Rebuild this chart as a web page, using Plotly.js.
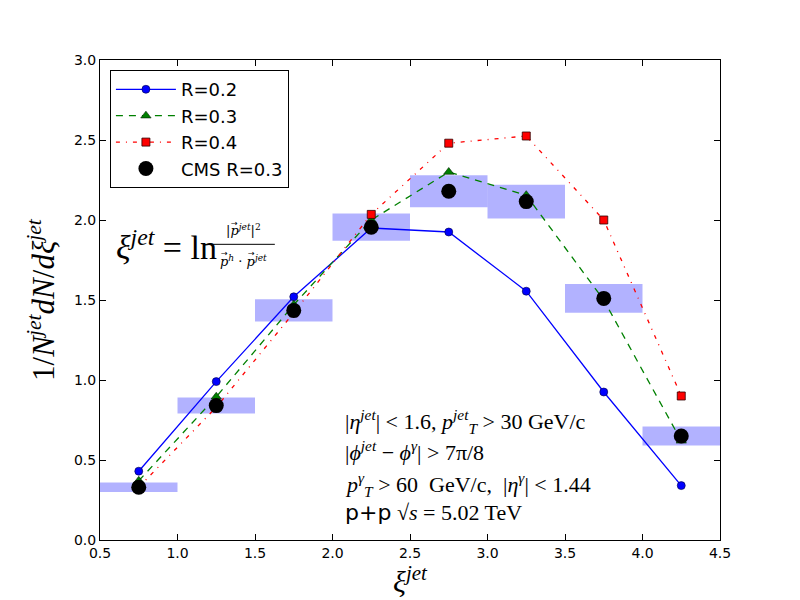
<!DOCTYPE html>
<html>
<head>
<meta charset="utf-8">
<script src="https://cdn.plot.ly/plotly-3.0.1.min.js"></script>
<style>
  body { margin: 0; background: #fff; }
  #chart { width: 800px; height: 600px; }
</style>
</head>
<body>
<div id="chart"></div>
<script>
'use strict';

// xi bin centres and bin width
var xiCentres = [0.75, 1.25, 1.75, 2.25, 2.75, 3.25, 3.75, 4.25];
var binWidth = 0.5;

// Model curves
var r02 = [0.43, 0.99, 1.52, 1.95, 1.925, 1.555, 0.925, 0.34];
var r03 = [0.37, 0.895, 1.47, 2.00, 2.30, 2.155, 1.50, 0.62];
var r04 = [0.33, 0.83, 1.42, 2.035, 2.48, 2.525, 2.00, 0.90];

// CMS data and its systematic box half-height
var cms = [0.33, 0.84, 1.435, 1.955, 2.18, 2.115, 1.51, 0.65];
var cmsSys = [0.03, 0.05, 0.07, 0.085, 0.10, 0.105, 0.09, 0.06];

var xTicks = [0.5, 1.0, 1.5, 2.0, 2.5, 3.0, 3.5, 4.0, 4.5];
var yTicks = [0.0, 0.5, 1.0, 1.5, 2.0, 2.5, 3.0];

var serif = '"Liberation Serif", "DejaVu Serif", serif';
var dvSerif = '"DejaVu Serif", serif';
var sans = '"DejaVu Sans", sans-serif';

function draw (node) {

    // Systematic boxes as bars with a base
    var boxBase = [], boxHeight = [];
    for (var i = 0; i < cms.length; ++i) {
        boxBase.push(cms[i] - cmsSys[i]);
        boxHeight.push(2 * cmsSys[i]);
    }

    var traces = [{
            type: 'bar',
            x: xiCentres,
            y: boxHeight,
            base: boxBase,
            width: binWidth,
            marker: { color: 'rgba(0,0,255,0.3)', line: { width: 0 } },
            showlegend: false,
            hoverinfo: 'none'
        },
        {
            type: 'scatter',
            name: 'R=0.2',
            x: xiCentres,
            y: r02,
            mode: 'lines+markers',
            line: { color: '#0000ff', width: 1.3 },
            marker: { symbol: 'circle', size: 8, color: '#0000ff',
                      line: { color: '#000040', width: 0.6 } },
            hoverinfo: 'none'
        },
        {
            type: 'scatter',
            name: 'R=0.3',
            x: xiCentres,
            y: r03,
            mode: 'lines+markers',
            line: { color: '#008000', width: 1.3, dash: '7px,6px' },
            marker: { symbol: 'triangle-up', size: 9, color: '#008000',
                      line: { color: '#002000', width: 0.6 } },
            hoverinfo: 'none'
        },
        {
            type: 'scatter',
            name: 'R=0.4',
            x: xiCentres,
            y: r04,
            mode: 'lines+markers',
            line: { color: '#ff0000', width: 1.3, dash: '4px,6px,1px,6px' },
            marker: { symbol: 'square', size: 8, color: '#ff0000',
                      line: { color: '#300000', width: 0.8 } },
            hoverinfo: 'none'
        },
        {
            type: 'scatter',
            name: 'CMS R=0.3',
            x: xiCentres,
            y: cms,
            mode: 'markers',
            marker: { symbol: 'circle', size: 15, color: '#000000' },
            hoverinfo: 'none'
        }
    ];

    var axisCommon = {
        showline: true,
        linecolor: '#000',
        linewidth: 1,
        mirror: 'ticks',
        ticks: 'inside',
        ticklen: 6,
        tickcolor: '#000',
        showgrid: false,
        zeroline: false,
        tickfont: { family: sans, size: 14, color: '#000' }
    };

    var xaxis = Object.assign({}, axisCommon, {
        range: [0.5, 4.5],
        tickvals: xTicks,
        tickformat: '.1f',
        title: { text: '<i>ξ</i><sup><i>jet</i></sup>', font: { family: serif, size: 30, color: '#000' }, standoff: 2 }
    });
    var yaxis = Object.assign({}, axisCommon, {
        range: [0, 3],
        tickvals: yTicks,
        tickformat: '.1f',
        title: { text: '1/<i>N</i><sup><i>jet</i></sup><i>dN</i>/<i>dξ</i><sup><i>jet</i></sup>',
                 font: { family: serif, size: 31, color: '#000' }, standoff: 10 }
    });

    var annFont = { family: serif, size: 22, color: '#000' };
    var fracFont = { family: dvSerif, size: 13, color: '#000' };
    var arrowFont = { family: sans, size: 8, color: '#000' };
    var annotations = [
        { xref: 'paper', yref: 'paper', x: 0.022, y: 0.615, xanchor: 'left', yanchor: 'middle',
          text: '<i>ξ</i><sup><i>jet</i></sup> = ln', font: { family: serif, size: 34, color: '#000' }, showarrow: false },
        { xref: 'paper', yref: 'paper', x: 0.231, y: 0.645, xanchor: 'center', yanchor: 'middle',
          text: '|<i>p</i><sup><i>jet</i></sup>|<sup>2</sup>', font: fracFont, showarrow: false },
        { xref: 'paper', yref: 'paper', x: 0.231, y: 0.582, xanchor: 'center', yanchor: 'middle',
          text: '<i>p</i><sup><i>h</i></sup> · <i>p</i><sup><i>jet</i></sup>', font: fracFont, showarrow: false },
        // vector arrows over the three momenta
        { xref: 'paper', yref: 'paper', x: 0.217, y: 0.660, xanchor: 'center', yanchor: 'middle',
          text: '→', font: arrowFont, showarrow: false },
        { xref: 'paper', yref: 'paper', x: 0.201, y: 0.597, xanchor: 'center', yanchor: 'middle',
          text: '→', font: arrowFont, showarrow: false },
        { xref: 'paper', yref: 'paper', x: 0.244, y: 0.597, xanchor: 'center', yanchor: 'middle',
          text: '→', font: arrowFont, showarrow: false },
        { xref: 'paper', yref: 'paper', x: 0.392, y: 0.247, xanchor: 'left', yanchor: 'middle',
          text: '|<i>η</i><sup><i>jet</i></sup>| < 1.6, <i>p</i><sup><i>jet</i></sup><sub><i>T</i></sub> > 30 GeV/c', font: annFont, showarrow: false },
        { xref: 'paper', yref: 'paper', x: 0.392, y: 0.186, xanchor: 'left', yanchor: 'middle',
          text: '|<i>ϕ</i><sup><i>jet</i></sup> − <i>ϕ</i><sup><i>γ</i></sup>| > 7π/8', font: annFont, showarrow: false },
        { xref: 'paper', yref: 'paper', x: 0.392, y: 0.115, xanchor: 'left', yanchor: 'middle',
          text: '<i>p</i><sup><i>γ</i></sup><sub><i>T</i></sub> > 60  GeV/c,  |<i>η</i><sup><i>γ</i></sup>| < 1.44', font: annFont, showarrow: false },
        { xref: 'paper', yref: 'paper', x: 0.392, y: 0.058, xanchor: 'left', yanchor: 'middle',
          text: '<span style="font-family:DejaVu Sans">p+p</span> √<i>s</i> = 5.02 TeV', font: annFont, showarrow: false }
    ];

    // fraction bar of the xi definition
    var shapes = [
        { type: 'line', xref: 'paper', yref: 'paper', x0: 0.181, x1: 0.282, y0: 0.616, y1: 0.616,
          line: { color: '#000', width: 1 } }
    ];

    Plotly.newPlot(node, traces, {
        width: 800,
        height: 600,
        margin: { l: 100, r: 80, t: 60, b: 60 },
        paper_bgcolor: '#fff',
        plot_bgcolor: '#fff',
        barmode: 'overlay',
        xaxis: xaxis,
        yaxis: yaxis,
        annotations: annotations,
        shapes: shapes,
        legend: {
            x: 0.016, y: 0.979, xanchor: 'left', yanchor: 'top',
            bgcolor: '#fff',
            bordercolor: '#000',
            borderwidth: 1,
            itemwidth: 60,
            tracegroupgap: 0,
            font: { family: sans, size: 18, color: '#000' }
        }
    }, { displayModeBar: false, staticPlot: true });
}

draw(document.getElementById('chart'));
</script>
</body>
</html>
